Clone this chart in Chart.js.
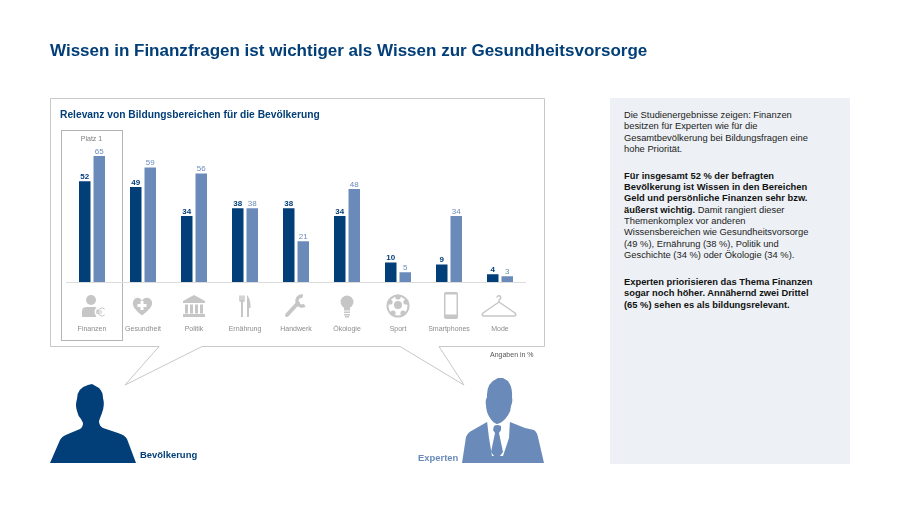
<!DOCTYPE html>
<html lang="de">
<head>
<meta charset="utf-8">
<title>Wissen in Finanzfragen</title>
<script src="https://cdn.jsdelivr.net/npm/chart.js@4"></script>
<style>
html, body { margin: 0; padding: 0; background: #fff; }
body { position: relative; width: 900px; height: 506px; overflow: hidden; font-family: "Liberation Sans", Arial, sans-serif; }
.abs { position: absolute; white-space: nowrap; }
#bubble, #chart { position: absolute; left: 0; top: 0; }
#title { left: 50px; top: 41px; font-size: 17.03px; font-weight: bold; color: #023e77; line-height: 20px; }
#subtitle { left: 60px; top: 108px; font-size: 10.25px; font-weight: bold; color: #023e77; line-height: 13px; }
#platz { left: 61px; top: 134px; width: 61px; text-align: center; font-size: 7px; color: #808080; line-height: 9px; }
#unit { left: 490px; top: 350px; font-size: 7px; color: #555; line-height: 9px; }
#popLabel { left: 140px; top: 448px; font-size: 9.45px; font-weight: bold; color: #023e77; line-height: 13px; }
#expLabel { left: 418px; top: 451px; font-size: 9.45px; font-weight: bold; color: #6a8bba; line-height: 13px; }
#panel { position: absolute; left: 610px; top: 98px; width: 240px; height: 366px; background: #edf1f5; }
#panelText { left: 624px; top: 110px; font-size: 9.35px; line-height: 11.3px; color: #222; }
#panelText p { margin: 0 0 15.7px 0; }
#panelText b { color: #111; }
</style>
</head>
<body>
<svg id="bubble" width="900" height="506" viewBox="0 0 900 506">
  <path d="M50.5 98.5H544.5V346.5H439L464 385L400 346.5H202L125 385L159 346.5H50.5Z" fill="#fff" stroke="#c8c8c8" stroke-width="1"/>
  <rect x="61.5" y="130.5" width="61" height="210" fill="none" stroke="#b4b4b4" stroke-width="1"/>
  <path fill="#023e77" d="M50 463L60 440Q62 436 68 434L80 429Q83 427 83 423L81 419Q78 416 77 411Q75 405 77 399Q77 388 88 385L92 384L99 388Q103 392 103 398Q105 405 102 413Q100 418 99 421Q99 426 103 428L118 433Q125 435 127 439L136 463Z"/>
  <path fill="#6a8bba" d="M462 463L466 437Q468 432 473 430L487 422L510 422L525 428L534 430Q537 432 538 437L544 463Z"/>
  <path fill="#fff" d="M487 421L491 417L497 424L505 417L510 420L509 438L503 456L492 456L489 438Z"/>
  <path fill="#6a8bba" d="M490 418Q486 412 486 405Q485 401 487 397Q486 383 498 378L503 378Q513 382 512 397Q513 402 511 406Q511 412 506 418Q502 423 497 424Q493 423 490 418Z"/>
  <path fill="#6a8bba" d="M494 426Q497 424 501 426L501 430L499 433L503 452L497 460L491 452L495 433L493 430Z"/>
</svg>
<canvas id="chart" width="900" height="506"></canvas>
<div class="abs" id="title">Wissen in Finanzfragen ist wichtiger als Wissen zur Gesundheitsvorsorge</div>
<div class="abs" id="subtitle">Relevanz von Bildungsbereichen für die Bevölkerung</div>
<div class="abs" id="platz">Platz 1</div>
<div class="abs" id="unit">Angaben in %</div>
<div class="abs" id="popLabel">Bevölkerung</div>
<div class="abs" id="expLabel">Experten</div>
<div id="panel"></div>
<div class="abs" id="panelText">
  <p>Die Studienergebnisse zeigen: Finanzen<br>besitzen für Experten wie für die<br>Gesamtbevölkerung bei Bildungsfragen eine<br>hohe Priorität.</p>
  <p><b>Für insgesamt 52 % der befragten<br>Bevölkerung ist Wissen in den Bereichen<br>Geld und persönliche Finanzen sehr bzw.<br>äußerst wichtig.</b> Damit rangiert dieser<br>Themenkomplex vor anderen<br>Wissensbereichen wie Gesundheitsvorsorge<br>(49 %), Ernährung (38 %), Politik und<br>Geschichte (34 %) oder Ökologie (34 %).</p>
  <p><b>Experten priorisieren das Thema Finanzen<br>sogar noch höher. Annähernd zwei Drittel<br>(65 %) sehen es als bildungsrelevant.</b></p>
</div>
<script>
const categories = ["Finanzen", "Gesundheit", "Politik", "Ernährung", "Handwerk", "Ökologie", "Sport", "Smartphones", "Mode"]
const population = [52, 49, 34, 38, 38, 34, 10, 9, 4]
const experts = [65, 59, 56, 38, 21, 48, 5, 34, 3]

const darkBlue = '#023e77'
const lightBlue = '#6a8bba'
const iconGray = '#c6c6c6'

// one small drawing per category, origin is the middle of the category
const icons = [
    function(c) {
        c.beginPath(); c.arc(-1, -6, 5, 0, Math.PI * 2); c.fill()
        c.beginPath(); c.moveTo(-10, 11); c.lineTo(-10, 5); c.quadraticCurveTo(-10, 1, -5, 1)
        c.lineTo(3, 1); c.quadraticCurveTo(6, 1, 6, 4); c.lineTo(4, 11); c.closePath(); c.fill()
        c.strokeStyle = '#fff'; c.lineWidth = 2
        c.beginPath(); c.arc(9, 6, 5.5, 0, Math.PI * 2); c.stroke()
        c.strokeStyle = iconGray; c.lineWidth = 1
        c.beginPath(); c.arc(10, 6, 4, 0.8, Math.PI * 2 - 0.8); c.stroke()
        c.beginPath(); c.moveTo(4, 5); c.lineTo(10, 5); c.moveTo(4, 7); c.lineTo(10, 7); c.stroke()
    },
    function(c) {
        c.beginPath(); c.moveTo(-1, 9.5)
        c.bezierCurveTo(-8, 4, -11, 0, -10, -4); c.bezierCurveTo(-9, -9, -3, -10, -1, -5)
        c.bezierCurveTo(1, -10, 8, -9, 9, -4); c.bezierCurveTo(10, 0, 6, 4, -1, 9.5); c.fill()
        c.fillStyle = '#fff'
        c.fillRect(-2.5, -5, 3, 9); c.fillRect(-5.5, -2, 9, 3)
    },
    function(c) {
        c.beginPath(); c.moveTo(0, -11); c.lineTo(11, -5); c.lineTo(11, -3); c.lineTo(-11, -3); c.lineTo(-11, -5); c.closePath(); c.fill()
        for (let col of [-9, -4, 1, 6]) c.fillRect(col, -1.5, 3, 9)
        c.fillRect(-11, 8, 22, 3)
    },
    function(c) {
        c.lineWidth = 1.5; c.lineCap = 'round'
        c.beginPath(); c.moveTo(-5, -10); c.lineTo(-5, -5); c.moveTo(-3, -10); c.lineTo(-3, -5); c.moveTo(-1, -10); c.lineTo(-1, -5); c.stroke()
        c.beginPath(); c.moveTo(-5.5, -6); c.quadraticCurveTo(-3, -1, -0.5, -6); c.fill()
        c.fillRect(-4, -4, 2, 15)
        c.beginPath(); c.moveTo(2, 11); c.lineTo(2, -11); c.quadraticCurveTo(6, -7, 5.5, 2); c.lineTo(4, 2); c.lineTo(4, 11); c.closePath(); c.fill()
    },
    function(c) {
        c.lineWidth = 4; c.lineCap = 'round'
        c.beginPath(); c.moveTo(-9, 9); c.lineTo(2, -3); c.stroke()
        c.lineWidth = 3.5; c.lineCap = 'butt'
        c.beginPath(); c.arc(6, -5, 5, 1.0, Math.PI * 2 - 1.4 ); c.stroke()
    },
    function(c) {
        c.beginPath(); c.arc(0, -4, 6.5, 0, Math.PI * 2); c.fill()
        c.fillRect(-3, 2, 6, 2.5)
        c.fillRect(-3, 5.5, 6, 1.5); c.fillRect(-3, 8, 6, 1.5); c.fillRect(-2, 10, 4, 1.5)
    },
    function(c) {
        c.lineWidth = 2
        c.beginPath(); c.arc(0, 0, 10.5, 0, Math.PI * 2); c.stroke()
        c.beginPath(); c.arc(0, -1, 4, 0, Math.PI * 2); c.fill()
        for (let [px, py] of [[-8, -4], [8, -4], [-5, 7], [5, 7], [0, -9]]) {
            c.beginPath(); c.arc(px, py, 2.6, 0, Math.PI * 2); c.fill()
        }
    },
    function(c) {
        c.beginPath(); c.roundRect(-5, -14, 14, 27, 2); c.fill()
        c.fillStyle = '#fff'
        c.fillRect(-3.5, -11.5, 11, 20)
    },
    function(c) {
        c.lineWidth = 1.5; c.lineCap = 'round'; c.lineJoin = 'round'
        c.beginPath(); c.moveTo(-1, -4); c.lineTo(15, 7); c.quadraticCurveTo(17, 10, 14, 10)
        c.lineTo(-16, 10); c.quadraticCurveTo(-19, 10, -17, 7); c.lineTo(-1, -4)
        c.lineTo(-1, -6); c.quadraticCurveTo(2, -8, 0, -10); c.quadraticCurveTo(-2, -11, -3, -9); c.stroke()
    }
]

const iconPlugin = {
    id: 'iconPlugin',
    afterDraw(chart) {
        const c = chart.ctx
        const x = chart.scales.x
        icons.forEach((draw, i) => {
            c.save()
            c.translate(x.getPixelForValue(i), 306)
            c.fillStyle = iconGray
            c.strokeStyle = iconGray
            draw(c)
            c.restore()
        })
    }
}

// numbers above the bars
const valuePlugin = {
    id: 'valuePlugin',
    afterDatasetsDraw(chart) {
        const c = chart.ctx
        c.save()
        c.textAlign = 'center'
        c.textBaseline = 'bottom'
        chart.data.datasets.forEach((ds, d) => {
            c.font = (d == 0 ? 'bold ' : '') + '8px "Liberation Sans"'
            c.fillStyle = d == 0 ? darkBlue : lightBlue
            chart.getDatasetMeta(d).data.forEach((bar, i) => {
                c.fillText(ds.data[i], bar.x, bar.y - 0.5)
            })
        })
        c.restore()
    }
}

new Chart(document.getElementById('chart'), {
    type: 'bar',
    data: {
        labels: categories,
        datasets: [{
            label: 'Bevölkerung',
            data: population,
            backgroundColor: darkBlue,
            categoryPercentage: 0.5686,
            barPercentage: 0.793
        }, {
            label: 'Experten',
            data: experts,
            backgroundColor: lightBlue,
            categoryPercentage: 0.5686,
            barPercentage: 0.793
        }]
    },
    options: {
        responsive: false,
        animation: false,
        layout: { padding: { left: 66.5, right: 374.5, top: 146.3, bottom: 0 } },
        plugins: { legend: { display: false }, tooltip: { enabled: false } },
        scales: {
            x: {
                afterFit(scale) { scale.height = 224 },
                grid: { display: false },
                border: { color: '#dcdcdc' },
                ticks: {
                    padding: 35,
                    color: '#8c8c8c',
                    font: { family: '"Liberation Sans"', size: 7 },
                    maxRotation: 0,
                    autoSkip: false
                }
            },
            y: { display: false, min: 0, max: 70 }
        }
    },
    plugins: [valuePlugin, iconPlugin]
})
</script>
</body>
</html>
